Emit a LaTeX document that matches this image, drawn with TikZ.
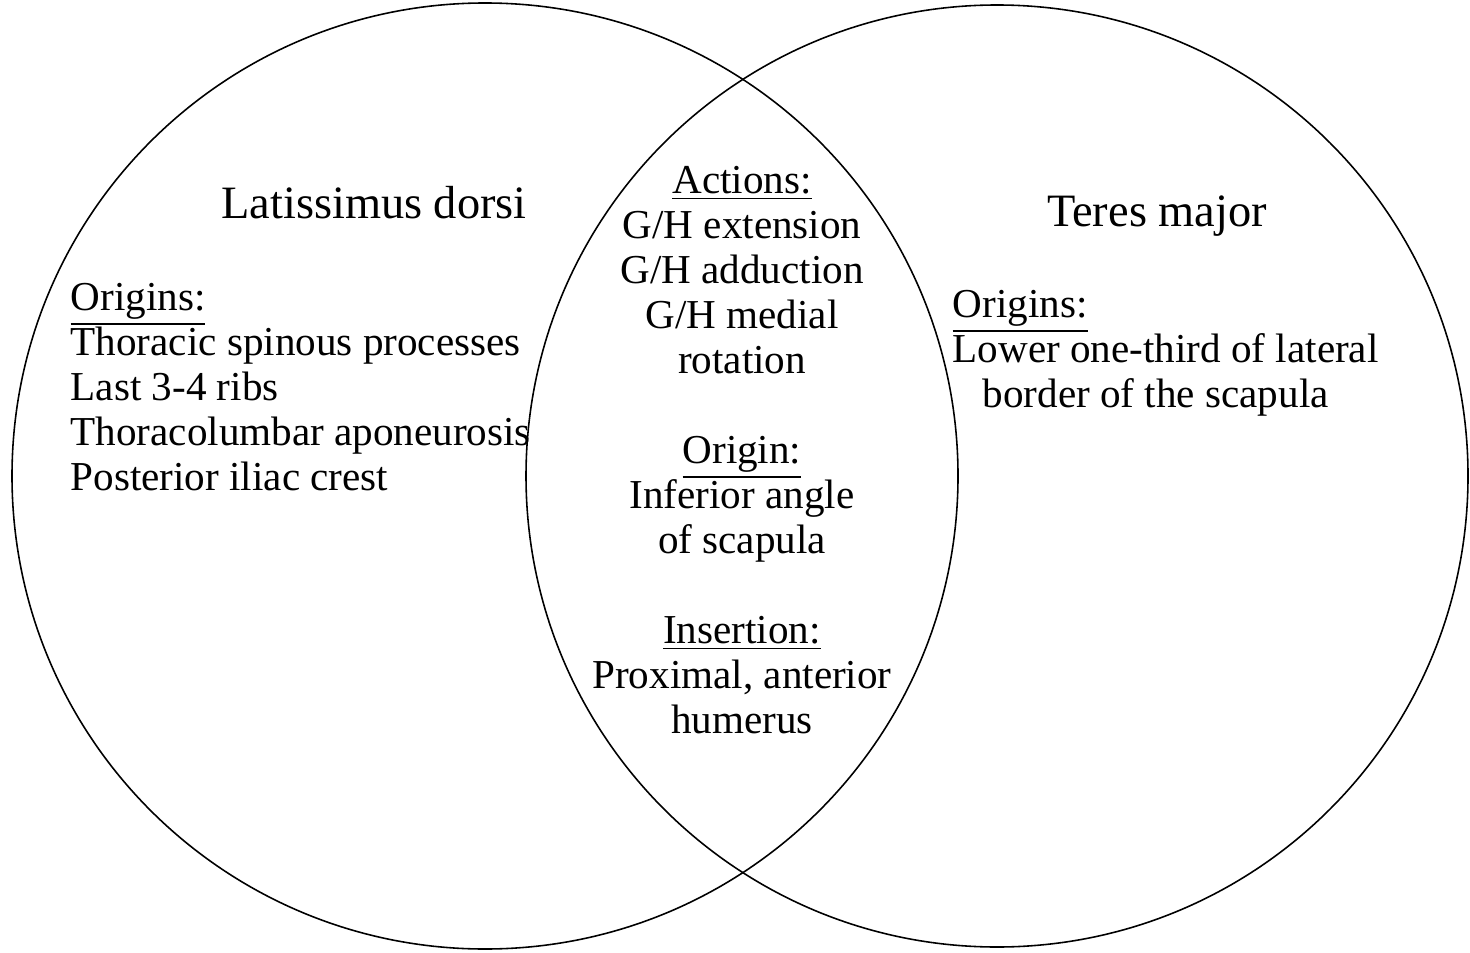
\documentclass[tikz,border=0pt]{standalone}
\usepackage{fontspec}
\setmainfont{Liberation Serif}
\usepackage{tkz-euclide}

\tikzset{
  label/.style={inner sep=0pt, font=\fontsize{11.7}{12.8}\selectfont},
  title/.style={inner sep=0pt, font=\fontsize{13.2}{14}\selectfont},
  ring/.style={line width=0.45pt, color=black}
}

\begin{document}
\begin{tikzpicture}[scale=1]
\useasboundingbox (0,0) rectangle (14.70,9.52);
\tkzDefPoint(4.85,4.76){L}
\tkzDefPoint(0.12,4.76){A}
\tkzDefPoint(9.97,4.76){R}
\tkzDefPoint(14.68,4.76){B}
\tkzDrawCircle[ring](L,A)
\tkzDrawCircle[ring](R,B)
% titles
\node[title, anchor=base] (lat) at (3.74,7.34) {Latissimus dorsi};
\node[title, anchor=base] (ter) at (11.57,7.25) {Teres major};
% left circle (base = last line)
\node[label, anchor=base west, align=left] (latorig) at (0.70,4.62)
  {\underline{Origins:}\\
   Thoracic spinous processes\\
   Last 3-4 ribs\\
   Thoracolumbar aponeurosis\\
   Posterior iliac crest};
% overlap
\node[label, anchor=base, align=center] (act) at (7.42,5.79)
  {\underline{Actions:}\\
   G/H extension\\
   G/H adduction\\
   G/H medial\\
   rotation};
\node[label, anchor=base, align=center] (ori) at (7.42,3.99)
  {\underline{Origin:}\\
   Inferior angle\\
   of scapula};
\node[label, anchor=base, align=center] (ins) at (7.42,2.19)
  {\underline{Insertion:}\\
   Proximal, anterior\\
   humerus};
% right circle
\node[label, anchor=base west, align=left] (terorig) at (9.52,5.45)
  {\underline{Origins:}\\
   Lower one-third of lateral\\
   \hspace*{0.3cm}border of the scapula};
\end{tikzpicture}
\end{document}
